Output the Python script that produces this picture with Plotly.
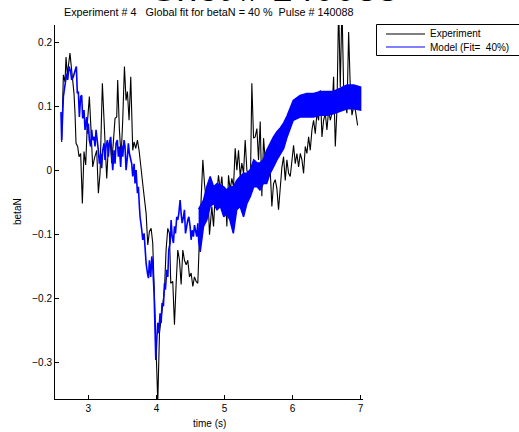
import plotly.graph_objects as go

# ---------------- data ----------------
exp_t = [2.608, 2.633, 2.657, 2.672, 2.691, 2.730, 2.755, 2.789, 2.804, 2.819, 2.843, 2.863, 2.887,
         2.912, 2.936, 2.961, 2.985, 3.015, 3.039, 3.064, 3.088, 3.123, 3.147, 3.172, 3.206, 3.231,
         3.255, 3.270, 3.294, 3.319, 3.343, 3.373, 3.392, 3.417, 3.431, 3.456, 3.481, 3.505, 3.530,
         3.554, 3.574, 3.598, 3.623, 3.652, 3.672, 3.696, 3.721, 3.745, 3.785, 3.809, 3.849, 3.873,
         3.897, 3.922, 3.946, 3.966, 3.995, 4.020, 4.045, 4.069, 4.093, 4.118, 4.142, 4.167, 4.191,
         4.211, 4.240, 4.265, 4.290, 4.314, 4.339, 4.363, 4.388, 4.412, 4.437, 4.461, 4.486, 4.510,
         4.535, 4.559, 4.584, 4.608, 4.633, 4.657, 4.682, 4.706, 4.731, 4.755, 4.780, 4.814, 4.839,
         4.863, 4.888, 4.912, 4.937, 4.961, 4.986, 5.010, 5.035, 5.059, 5.084, 5.108, 5.133, 5.157,
         5.182, 5.206, 5.231, 5.255, 5.280, 5.304, 5.329, 5.353, 5.378, 5.402, 5.427, 5.451, 5.476,
         5.500, 5.525, 5.549, 5.574, 5.598, 5.623, 5.647, 5.672, 5.696, 5.721, 5.745, 5.770, 5.794,
         5.819, 5.843, 5.868, 5.893, 5.917, 5.942, 5.966, 5.991, 6.015, 6.040, 6.064, 6.089, 6.113,
         6.138, 6.162, 6.187, 6.211, 6.236, 6.260, 6.285, 6.309, 6.334, 6.358, 6.383, 6.407, 6.432,
         6.456, 6.481, 6.505, 6.530, 6.554, 6.579, 6.603, 6.628, 6.652, 6.677, 6.701, 6.726, 6.750,
         6.775, 6.799, 6.824, 6.848, 6.873, 6.897, 6.922, 6.956]
exp_v = [0.045, 0.150, 0.139, 0.178, 0.150, 0.184, 0.157, 0.121, 0.090, 0.043, 0.038, 0.022, 0.027,
         -0.051, 0.030, 0.009, 0.074, 0.116, 0.064, 0.006, 0.019, 0.032, -0.035, -0.004, 0.137, 0.064,
         0.022, -0.012, 0.038, 0.048, 0.012, 0.053, 0.082, 0.084, 0.142, 0.064, 0.022, 0.079, 0.163,
         0.110, 0.124, 0.079, 0.147, 0.032, 0.045, 0.035, 0.048, 0.032, -0.002, -0.030, -0.067, -0.116,
         -0.095, -0.090, -0.113, -0.176, -0.259, -0.362, -0.254, -0.228, -0.202, -0.186, -0.124, -0.090, -0.098,
         -0.176, -0.173, -0.241, -0.176, -0.124, -0.140, -0.178, -0.124, -0.140, -0.147, -0.140, -0.166, -0.160,
         -0.181, -0.166, -0.173, -0.176, -0.103, -0.046, 0.017, -0.020, -0.046, -0.033, -0.100, -0.056, -0.087,
         -0.040, -0.033, -0.007, -0.030, -0.009, -0.046, -0.030, -0.087, -0.007, -0.030, -0.012, -0.025, 0.035,
         0.001, 0.032, -0.009, 0.012, -0.004, 0.048, 0.001, -0.009, -0.040, 0.137, 0.051, 0.053, 0.066,
         0.017, 0.077, -0.040, 0.051, 0.017, 0.032, -0.004, 0.001, -0.056, -0.020, -0.014, -0.028, -0.061,
         -0.020, 0.005, 0.022, -0.015, 0.017, -0.004, -0.009, 0.017, 0.040, 0.011, 0.027, 0.006, 0.027,
         0.017, -0.004, 0.038, 0.027, 0.053, 0.032, 0.064, 0.079, 0.058, 0.090, 0.079, 0.126, 0.053,
         0.079, 0.090, 0.064, 0.095, 0.079, 0.090, 0.147, 0.038, 0.095, 0.260, 0.131, 0.260, 0.131,
         0.105, 0.090, 0.217, 0.131, 0.087, 0.100, 0.095, 0.071]

model_t = [2.598, 2.608, 2.633, 2.657, 2.681, 2.696, 2.716, 2.740, 2.755, 2.779, 2.794, 2.814, 2.824,
           2.838, 2.853, 2.868, 2.887, 2.902, 2.917, 2.936, 2.951, 2.976, 2.990, 3.000, 3.015, 3.034,
           3.049, 3.064, 3.083, 3.098, 3.113, 3.132, 3.147, 3.162, 3.182, 3.196, 3.211, 3.231, 3.245,
           3.260, 3.280, 3.294, 3.309, 3.328, 3.343, 3.358, 3.378, 3.392, 3.407, 3.426, 3.441, 3.456,
           3.475, 3.490, 3.505, 3.525, 3.539, 3.554, 3.574, 3.588, 3.603, 3.623, 3.637, 3.652, 3.672,
           3.686, 3.701, 3.721, 3.735, 3.750, 3.760, 3.785, 3.799, 3.819, 3.834, 3.849, 3.868, 3.883,
           3.897, 3.917, 3.932, 3.946, 3.966, 3.981, 3.991, 4.005, 4.020, 4.035, 4.054, 4.069, 4.083,
           4.103, 4.118, 4.132, 4.152, 4.167, 4.181, 4.201, 4.216, 4.231, 4.250, 4.265, 4.280, 4.299,
           4.314, 4.329, 4.348, 4.363, 4.378, 4.397, 4.412, 4.427, 4.446, 4.461, 4.476, 4.495, 4.510,
           4.525, 4.544, 4.559, 4.574, 4.593, 4.608, 4.623, 4.642]
model_v = [0.092, 0.048, 0.116, 0.137, 0.152, 0.142, 0.163, 0.155, 0.142, 0.147, 0.155, 0.160, 0.163,
           0.121, 0.124, 0.084, 0.116, 0.118, 0.082, 0.095, 0.064, 0.084, 0.058, 0.074, 0.048, 0.038,
           0.064, 0.048, 0.053, 0.038, 0.064, 0.048, 0.032, 0.011, 0.027, 0.004, 0.032, 0.043, 0.017,
           0.038, 0.048, 0.022, 0.043, 0.053, 0.017, 0.001, 0.032, 0.011, 0.043, 0.048, 0.022, 0.038,
           0.006, 0.040, 0.022, 0.048, 0.038, 0.001, 0.022, 0.043, 0.027, 0.017, 0.011, -0.009, 0.011,
           -0.020, 0.001, -0.035, -0.025, -0.056, -0.072, -0.093, -0.108, -0.098, -0.134, -0.145, -0.160, -0.168,
           -0.140, -0.166, -0.134, -0.150, -0.192, -0.238, -0.296, -0.264, -0.238, -0.254, -0.223, -0.238, -0.207,
           -0.212, -0.176, -0.186, -0.155, -0.166, -0.124, -0.113, -0.077, -0.103, -0.113, -0.087, -0.098, -0.072,
           -0.077, -0.067, -0.046, -0.067, -0.082, -0.072, -0.061, -0.098, -0.082, -0.077, -0.072, -0.087, -0.108,
           -0.093, -0.103, -0.085, -0.093, -0.103, -0.082, -0.113, -0.098]

# envelope of the fast-oscillating model band (upper / lower edges)
band_t = [4.62, 4.643, 4.692, 4.74, 4.79, 4.84, 4.89, 4.94, 4.99, 5.03, 5.08, 5.13, 5.18, 5.23, 5.28,
          5.33, 5.38, 5.43, 5.48, 5.52, 5.57, 5.62, 5.67, 5.72, 5.77, 5.82, 5.87, 5.92, 6.01, 6.11,
          6.21, 6.31, 6.41, 6.51, 6.60, 6.70, 6.80, 6.90, 7.00]
band_hi = [-0.060, -0.056, -0.046, -0.025, -0.009, -0.025, -0.020, -0.022, -0.025, -0.030, -0.025, -0.025,
           -0.015, -0.009, -0.004, -0.004, 0.002, 0.017, 0.012, 0.012, 0.017, 0.032, 0.043, 0.053, 0.061,
           0.067, 0.075, 0.086, 0.110, 0.118, 0.121, 0.121, 0.124, 0.124, 0.124, 0.129, 0.134, 0.134, 0.131]
band_lo = [-0.110, -0.127, -0.087, -0.077, -0.056, -0.051, -0.061, -0.056, -0.072, -0.067, -0.077, -0.098,
           -0.061, -0.056, -0.072, -0.051, -0.040, -0.025, -0.025, -0.030, -0.020, -0.020, -0.004, 0.006, 0.017,
           0.027, 0.035, 0.053, 0.079, 0.084, 0.084, 0.084, 0.087, 0.087, 0.089, 0.093, 0.097, 0.097, 0.095]

x_ticks = [3, 4, 5, 6, 7]
y_ticks = [-0.3, -0.2, -0.1, 0, 0.1, 0.2]

title_text = "Shot # 140088"
subtitle_text = "Experiment # 4   Global fit for betaN = 40 %  Pulse # 140088"
legend_labels = ["Experiment", "Model (Fit=  40%)"]

# ---------------- layout helpers ----------------
W, H = 519, 432
L, R, T, B = 55, 363, 25, 399  # plot area in px
FONT = "Liberation Sans, Arial, Helvetica, sans-serif"


def px(xp):
    return (xp - L) / (R - L)


def py(yp):
    return (B - yp) / (B - T)


BLUE = "#0000ff"

fig = go.Figure()
fig.add_trace(go.Scatter(x=exp_t, y=exp_v, mode="lines", line=dict(color="black", width=1.1),
                         name=legend_labels[0], showlegend=False))
fig.add_trace(go.Scatter(x=band_t + band_t[::-1], y=band_hi + band_lo[::-1], fill="toself",
                         fillcolor=BLUE, mode="lines", line=dict(color=BLUE, width=1.5),
                         showlegend=False, hoverinfo="skip"))
fig.add_trace(go.Scatter(x=model_t, y=model_v, mode="lines", line=dict(color=BLUE, width=1.6),
                         name=legend_labels[1], showlegend=False))

shapes = [
    dict(type="rect", xref="paper", yref="paper", x0=px(376.5), x1=px(540), y0=py(24.5), y1=py(55.5),
         line=dict(color="black", width=1), fillcolor="white", layer="above"),
    dict(type="line", xref="paper", yref="paper", x0=px(386), x1=px(425), y0=py(34), y1=py(34),
         line=dict(color="black", width=1), layer="above"),
    dict(type="line", xref="paper", yref="paper", x0=px(386), x1=px(425), y0=py(47), y1=py(47),
         line=dict(color=BLUE, width=1), layer="above"),
]

annotations = [
    dict(text=title_text, xref="paper", yref="paper", x=px(274), y=py(-12), xanchor="center",
         yanchor="middle", showarrow=False, font=dict(family=FONT, size=38, color="black")),
    dict(text=subtitle_text, xref="paper", yref="paper", x=px(208.5), y=py(12.5), xanchor="center",
         yanchor="middle", showarrow=False, font=dict(family=FONT, size=10.8, color="black")),
    dict(text=legend_labels[0], xref="paper", yref="paper", x=px(428), y=py(34), xanchor="left",
         yanchor="middle", showarrow=False, font=dict(family=FONT, size=10, color="black")),
    dict(text=legend_labels[1], xref="paper", yref="paper", x=px(428), y=py(47), xanchor="left",
         yanchor="middle", showarrow=False, font=dict(family=FONT, size=10, color="black")),
    dict(text="betaN", xref="paper", yref="paper", x=px(17), y=py(212), xanchor="center",
         yanchor="middle", textangle=-90, showarrow=False, font=dict(family=FONT, size=10, color="black")),
    dict(text="time (s)", xref="paper", yref="paper", x=px(209), y=py(423), xanchor="center",
         yanchor="middle", showarrow=False, font=dict(family=FONT, size=10, color="black")),
]

fig.update_layout(
    width=W, height=H,
    margin=dict(l=L, r=W - R, t=T, b=H - B, pad=0, autoexpand=False),
    paper_bgcolor="white", plot_bgcolor="white",
    showlegend=False,
    shapes=shapes, annotations=annotations,
    font=dict(family=FONT, size=10, color="black"),
    xaxis=dict(range=[2.51, 7.035], tickvals=x_ticks, ticks="inside", ticklen=4, tickcolor="black",
               showline=True, linecolor="black", linewidth=1, showgrid=False, zeroline=False,
               tickfont=dict(family=FONT, size=10, color="black")),
    yaxis=dict(range=[-0.357, 0.228], tickvals=y_ticks, ticks="inside", ticklen=4, tickcolor="black",
               showline=True, linecolor="black", linewidth=1, showgrid=False, zeroline=False,
               tickfont=dict(family=FONT, size=10, color="black")),
)

fig.write_html("out.html")
